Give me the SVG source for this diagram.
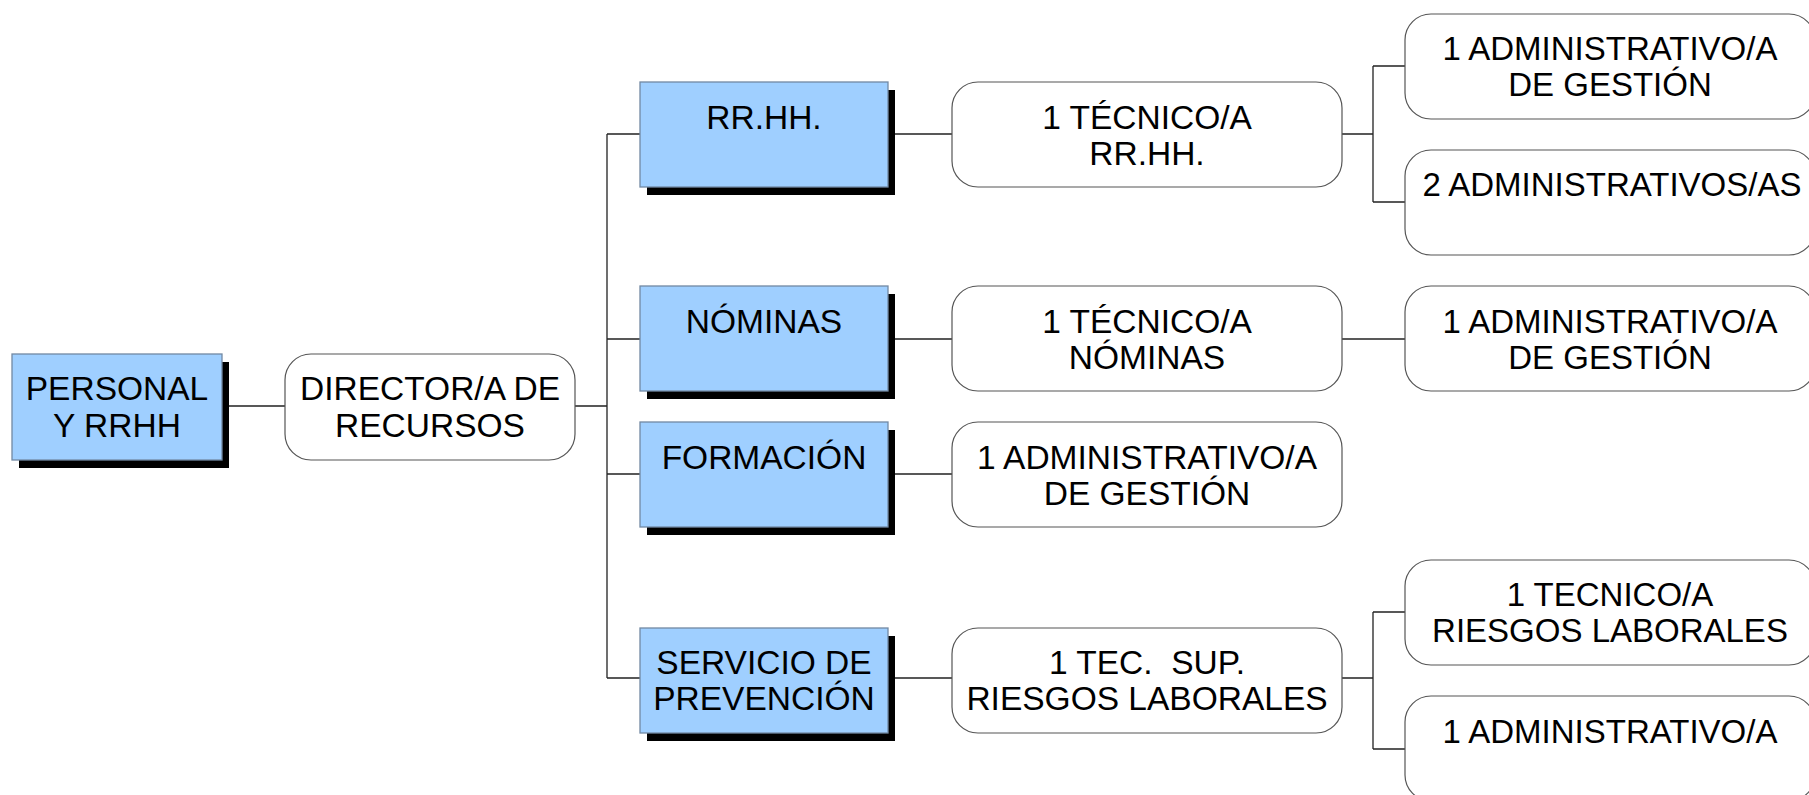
<svg xmlns="http://www.w3.org/2000/svg" width="1809" height="795" viewBox="0 0 1809 795">
<style>
.blue{fill:#9fcfff;stroke:#7289a3;stroke-width:1.3}
.shadow{fill:#000}
.rnd{fill:#fff;stroke:#555;stroke-width:1.2}
.t{font-family:"Liberation Sans",Arial,sans-serif;font-size:33.5px;fill:#000;text-anchor:middle}
.t3{font-size:33px}
.c{fill:none;stroke:#222;stroke-width:1.3}
</style>
<rect width="1809" height="795" fill="#fff"/>
<g id="connectors">
<path class="c" d="M222 406H285M575 406H607M607 134V678M607 134H640M607 339H640M607 474H640M607 678H640"/>
<path class="c" d="M888 134H952M888 339H952M888 474H952M888 678H952"/>
<path class="c" d="M1342 134H1373M1373 66V202M1373 66H1405M1373 202H1405"/>
<path class="c" d="M1342 339H1405"/>
<path class="c" d="M1342 678H1373M1373 612V749M1373 612H1405M1373 749H1405"/>
</g>
<g id="personal">
<rect class="shadow" x="19" y="362" width="210" height="106"/>
<rect class="blue" x="12" y="354" width="210" height="106"/>
<text class="t" x="117" y="400">PERSONAL</text>
<text class="t" x="117" y="437">Y RRHH</text>
</g>
<g id="director">
<rect class="rnd" x="285" y="354" width="290" height="106" rx="26"/>
<text class="t" x="430" y="400">DIRECTOR/A DE</text>
<text class="t" x="430" y="437">RECURSOS</text>
</g>
<g id="rrhh">
<rect class="shadow" x="647" y="90" width="248" height="105"/>
<rect class="blue" x="640" y="82" width="248" height="105"/>
<text class="t" x="764" y="129">RR.HH.</text>
</g>
<g id="nominas">
<rect class="shadow" x="647" y="294" width="248" height="105"/>
<rect class="blue" x="640" y="286" width="248" height="105"/>
<text class="t" x="764" y="333">NÓMINAS</text>
</g>
<g id="formacion">
<rect class="shadow" x="647" y="430" width="248" height="105"/>
<rect class="blue" x="640" y="422" width="248" height="105"/>
<text class="t" x="764" y="469">FORMACIÓN</text>
</g>
<g id="servicio">
<rect class="shadow" x="647" y="636" width="248" height="105"/>
<rect class="blue" x="640" y="628" width="248" height="105"/>
<text class="t" x="764" y="674">SERVICIO DE</text>
<text class="t" x="764" y="710">PREVENCIÓN</text>
</g>
<g id="tec-rrhh">
<rect class="rnd" x="952" y="82" width="390" height="105" rx="26"/>
<text class="t" x="1147" y="129">1 TÉCNICO/A</text>
<text class="t" x="1147" y="165">RR.HH.</text>
</g>
<g id="tec-nominas">
<rect class="rnd" x="952" y="286" width="390" height="105" rx="26"/>
<text class="t" x="1147" y="333">1 TÉCNICO/A</text>
<text class="t" x="1147" y="369">NÓMINAS</text>
</g>
<g id="adm-formacion">
<rect class="rnd" x="952" y="422" width="390" height="105" rx="26"/>
<text class="t" x="1147" y="469">1 ADMINISTRATIVO/A</text>
<text class="t" x="1147" y="505">DE GESTIÓN</text>
</g>
<g id="tec-sup">
<rect class="rnd" x="952" y="628" width="390" height="105" rx="26"/>
<text class="t" x="1147" y="674" xml:space="preserve" style="white-space:pre">1 TEC.  SUP.</text>
<text class="t" x="1147" y="710">RIESGOS LABORALES</text>
</g>
<g id="adm-rrhh-1">
<rect class="rnd" x="1405" y="14" width="410" height="105" rx="26"/>
<text class="t t3" x="1610" y="60">1 ADMINISTRATIVO/A</text>
<text class="t t3" x="1610" y="96">DE GESTIÓN</text>
</g>
<g id="adm-rrhh-2">
<rect class="rnd" x="1405" y="150" width="410" height="105" rx="26"/>
<text class="t t3" x="1612" y="196">2 ADMINISTRATIVOS/AS</text>
</g>
<g id="adm-nominas">
<rect class="rnd" x="1405" y="286" width="410" height="105" rx="26"/>
<text class="t t3" x="1610" y="333">1 ADMINISTRATIVO/A</text>
<text class="t t3" x="1610" y="369">DE GESTIÓN</text>
</g>
<g id="tec-riesgos">
<rect class="rnd" x="1405" y="560" width="410" height="105" rx="26"/>
<text class="t t3" x="1610" y="606">1 TECNICO/A</text>
<text class="t t3" x="1610" y="642">RIESGOS LABORALES</text>
</g>
<g id="adm-riesgos">
<rect class="rnd" x="1405" y="696" width="410" height="105" rx="26"/>
<text class="t t3" x="1610" y="743">1 ADMINISTRATIVO/A</text>
</g>
</svg>
